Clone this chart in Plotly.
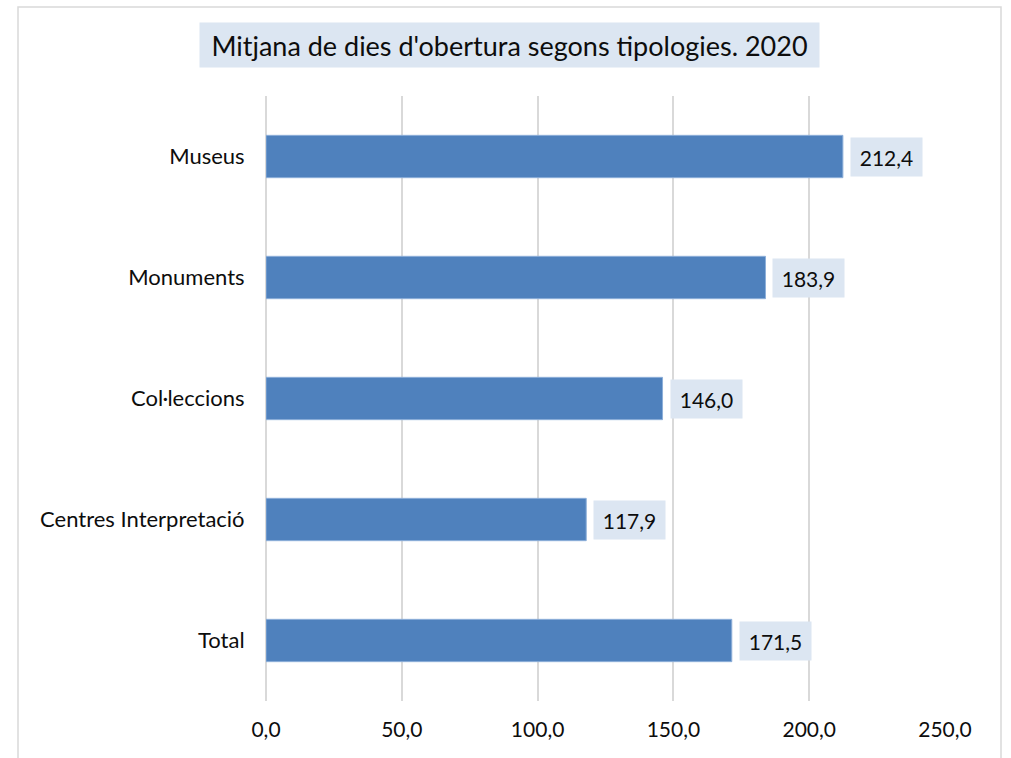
import plotly.graph_objects as go

# Average opening days by type of facility, 2020
categories = ["Museus", "Monuments", "Col·leccions", "Centres Interpretació", "Total"]
values = [212.4, 183.9, 146.0, 117.9, 171.5]
tick_vals = [0, 50, 100, 150, 200, 250]
tick_text = ["0,0", "50,0", "100,0", "150,0", "200,0", "250,0"]
title_text = "Mitjana de dies d'obertura segons tipologies. 2020"

FONT = "Lato, Carlito, Calibri, sans-serif"
BAR = "#4F81BD"
LABEL_BG = "#DCE6F2"
GRID = "#D9D9D9"
TEXT = "#0D0D0D"

W, H = 1011, 758
L, R, T, B = 266, 66, 96, 57
pw, ph = W - L - R, H - T - B


def px_x(px):
    return (px - L) / pw


def px_y(py):
    return (H - B - py) / ph


fig = go.Figure(
    go.Bar(
        y=categories,
        x=values,
        orientation="h",
        marker=dict(color=BAR, line=dict(color="#8DAFD9", width=1)),
        hoverinfo="skip",
    )
)

# value labels in shaded boxes just past the bar ends
annotations = []
for cat, v in zip(categories, values):
    annotations.append(
        dict(
            x=v, y=cat, xref="x", yref="y",
            text=f"{v:.1f}".replace(".", ","),
            showarrow=False, xanchor="left", yanchor="middle", xshift=7,
            bgcolor=LABEL_BG, width=71, height=38, borderpad=0, align="center",
            font=dict(family=FONT, size=21, color=TEXT),
        )
    )

# title in a shaded box
annotations.append(
    dict(
        x=px_x(509.5), y=px_y(45), xref="paper", yref="paper",
        text=title_text, showarrow=False, xanchor="center", yanchor="middle",
        bgcolor=LABEL_BG, width=619, height=44, borderpad=0, align="center",
        font=dict(family=FONT, size=27, color=TEXT),
    )
)

fig.update_layout(
    width=W, height=H,
    margin=dict(l=L, r=R, t=T, b=B, autoexpand=False),
    paper_bgcolor="white", plot_bgcolor="white",
    bargap=0.65,
    showlegend=False,
    font=dict(family=FONT, size=21, color=TEXT),
    annotations=annotations,
    shapes=[
        dict(
            type="rect", xref="paper", yref="paper",
            x0=px_x(18), x1=px_x(1001), y0=px_y(775), y1=px_y(7),
            line=dict(color=GRID, width=1.5), fillcolor="rgba(0,0,0,0)", layer="below",
        )
    ],
)

fig.update_xaxes(
    range=[0, 250],
    tickvals=tick_vals, ticktext=tick_text,
    showgrid=True, gridcolor=GRID, gridwidth=2,
    zeroline=True, zerolinecolor=GRID, zerolinewidth=2,
    showline=False,
    ticks="outside", ticklen=10, tickcolor="rgba(0,0,0,0)",
    tickfont=dict(family=FONT, size=21, color=TEXT),
    fixedrange=True,
)
fig.update_yaxes(
    categoryorder="array", categoryarray=categories, autorange="reversed",
    showgrid=False, zeroline=False, showline=False,
    ticks="outside", ticklen=16, tickcolor="rgba(0,0,0,0)",
    tickfont=dict(family=FONT, size=22, color=TEXT),
    fixedrange=True,
)

fig.write_html("out.html", config={"displayModeBar": False})
